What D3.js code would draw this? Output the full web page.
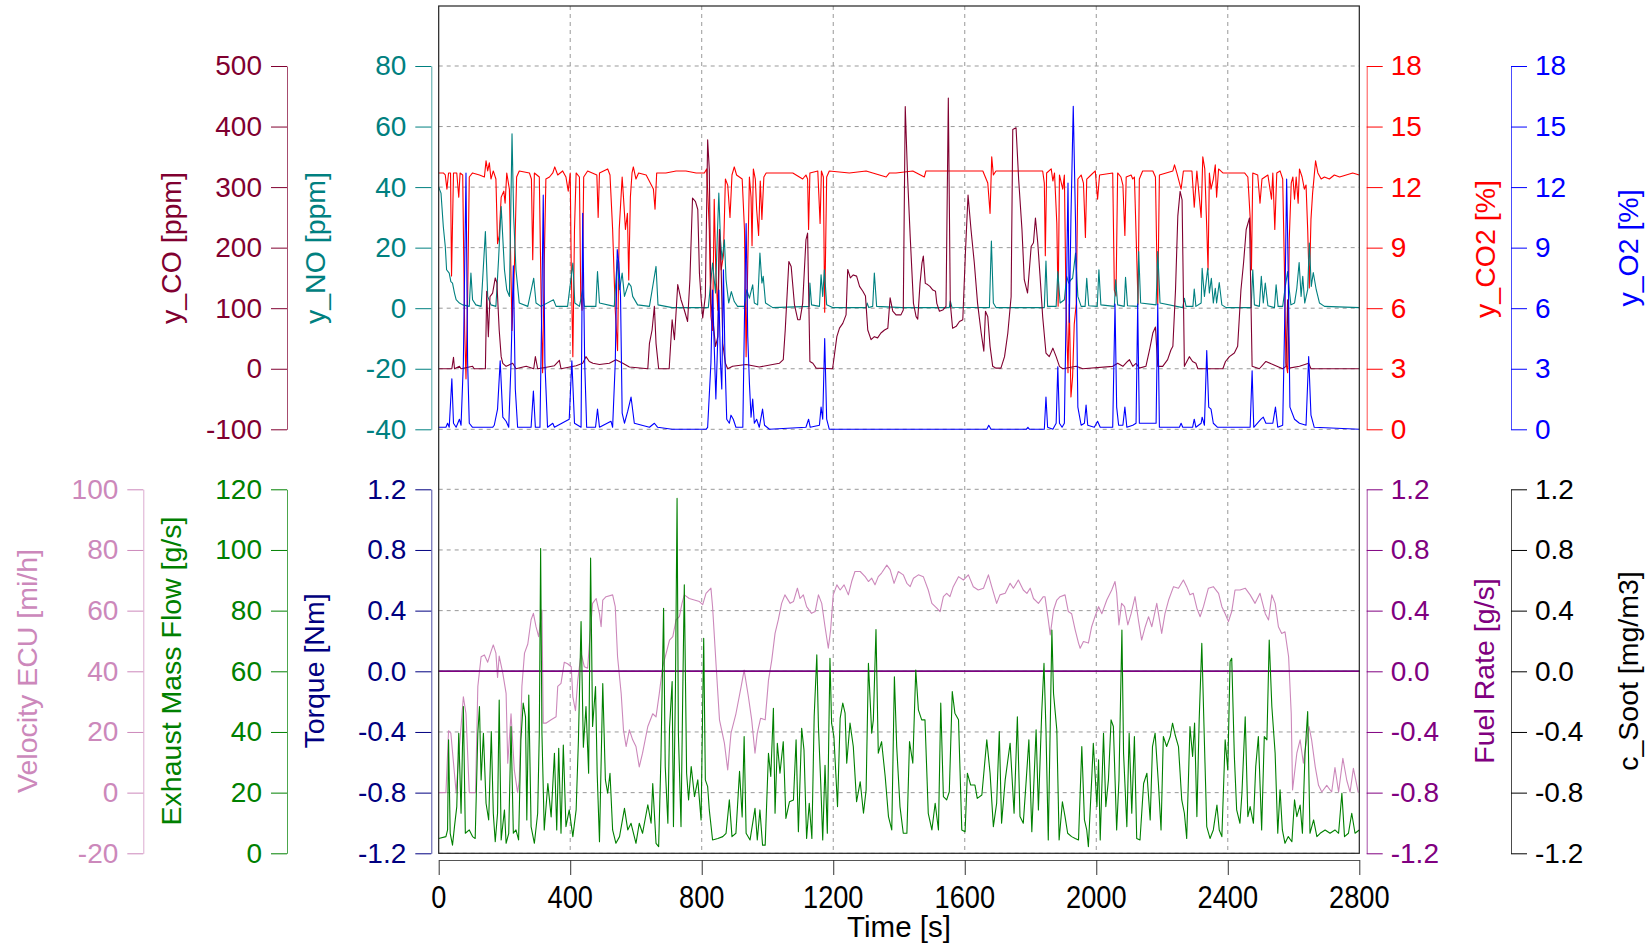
<!DOCTYPE html>
<html>
<head>
<meta charset="utf-8">
<script src="https://cdn.jsdelivr.net/npm/d3@7"></script>
<style>
  html, body { margin: 0; padding: 0; background: #fff; }
  svg { display: block; font-family: "Liberation Sans", Arial, sans-serif; }
</style>
</head>
<body>
<svg id="chart" width="1651" height="948"></svg>
<script>
// ---- data, [time s, value] ----
const timeTicks = [0, 400, 800, 1200, 1600, 2000, 2400, 2800];

const co2 = [[0,12.7],[14,12.7],[20,12.6],[25,11.9],[30,12.7],[36,12.7],[39,7.6],[45,12.7],[55,12.7],[61,11.5],[65,12.7],[73,12.6],[79,4.9],[83,2.5],[88,6.6],[93,12.5],[103,12.7],[124,12.6],[139,12.5],[144,13.3],[149,12.8],[154,13.2],[159,12.4],[166,12.8],[174,12.4],[179,9.2],[184,9.6],[190,11.5],[198,11.8],[202,11.2],[207,12.7],[215,11.9],[223,4.9],[230,7.9],[237,12.5],[245,12.8],[276,12.7],[282,12.4],[286,8.4],[291,12.7],[306,12.5],[313,4.9],[316,2.8],[321,8.2],[326,12.4],[337,12.5],[347,12.7],[353,13.0],[362,12.6],[377,12.8],[387,12.5],[394,11.8],[400,12.7],[403,8.2],[408,3.6],[413,9.9],[418,12.7],[428,12.5],[432,6.6],[436,5.9],[441,12.5],[453,12.8],[481,12.6],[485,10.5],[489,12.7],[514,12.9],[521,12.6],[529,9.9],[537,5.9],[544,3.9],[549,9.9],[558,12.5],[562,11.5],[568,9.9],[574,10.7],[578,7.4],[583,11.5],[588,12.7],[592,13.0],[600,12.4],[608,12.7],[631,12.6],[653,11.9],[658,10.9],[663,12.7],[681,12.7],[691,12.7],[722,12.8],[752,12.8],[783,12.7],[808,12.7],[815,12.9],[819,11.5],[823,9.9],[828,5.6],[833,4.9],[838,11.4],[843,7.7],[849,5.9],[854,9.9],[859,7.9],[866,8.6],[872,12.4],[879,12.1],[886,10.5],[892,12.6],[899,13.0],[906,12.6],[923,12.4],[930,9.9],[935,3.6],[940,8.2],[945,12.5],[950,11.5],[953,9.1],[957,12.9],[963,12.4],[967,10.9],[973,9.6],[978,12.3],[983,10.4],[989,12.5],[996,12.7],[1036,12.7],[1077,12.7],[1107,12.4],[1117,12.6],[1122,12.4],[1125,9.9],[1129,12.7],[1153,12.8],[1160,10.2],[1164,12.8],[1170,12.5],[1174,5.8],[1180,12.5],[1188,12.8],[1249,12.7],[1300,12.8],[1361,12.5],[1371,12.7],[1391,12.7],[1442,12.8],[1477,12.5],[1482,12.8],[1594,12.8],[1655,12.8],[1670,12.2],[1677,10.7],[1682,13.5],[1687,12.6],[1695,12.8],[1837,12.8],[1842,12.2],[1845,8.6],[1849,12.7],[1863,12.9],[1868,12.3],[1873,12.7],[1880,10.2],[1884,6.1],[1888,12.6],[1898,11.9],[1903,12.6],[1908,6.2],[1914,2.8],[1918,6.2],[1923,1.6],[1928,2.6],[1933,5.2],[1939,6.2],[1944,12.4],[1954,12.6],[1961,12.2],[1967,9.5],[1971,12.4],[1984,12.6],[1997,12.8],[2004,11.4],[2010,12.6],[2050,12.7],[2055,6.9],[2060,6.6],[2065,12.7],[2075,12.5],[2081,12.1],[2087,9.6],[2091,12.5],[2106,12.6],[2111,12.4],[2116,12.5],[2123,8.6],[2127,6.2],[2131,12.4],[2141,12.8],[2172,12.8],[2180,12.5],[2184,8.6],[2187,6.2],[2192,12.6],[2233,12.8],[2238,13.1],[2245,12.7],[2258,11.9],[2265,12.8],[2291,12.8],[2298,11.0],[2306,12.8],[2319,10.5],[2324,13.5],[2330,12.9],[2336,10.0],[2340,7.9],[2344,12.7],[2349,11.9],[2356,12.4],[2362,13.1],[2366,11.5],[2372,12.9],[2385,12.7],[2451,12.7],[2461,12.5],[2468,10.5],[2472,7.9],[2476,12.7],[2491,12.6],[2498,11.2],[2504,12.4],[2522,12.6],[2533,11.4],[2537,12.7],[2543,9.9],[2549,12.7],[2559,12.8],[2567,12.4],[2572,8.2],[2577,3.3],[2582,2.8],[2587,9.4],[2593,12.2],[2598,12.5],[2603,11.4],[2608,12.5],[2614,11.2],[2618,12.9],[2626,12.5],[2633,11.9],[2638,12.1],[2643,9.9],[2648,7.0],[2653,10.4],[2658,11.7],[2667,13.3],[2674,12.7],[2684,12.4],[2694,12.5],[2709,12.4],[2724,12.6],[2740,12.5],[2760,12.6],[2780,12.7],[2800,12.6]];

const no = [[0,40],[7,38],[14,27],[20,20.4],[24,12.7],[32,11.6],[37,8.8],[42,8.3],[48,5.0],[53,2.8],[63,1.7],[73,1.1],[93,0.6],[98,11.6],[103,2.8],[113,1.1],[129,0.6],[142,25.3],[149,3.9],[159,1.1],[174,0.6],[182,16.0],[190,33.6],[200,12.7],[207,6.1],[215,3.9],[223,57.6],[228,30.3],[235,12.7],[245,1.7],[271,0.6],[289,9.9],[296,1.7],[311,0.6],[349,2.8],[357,0.6],[392,0.6],[408,14.9],[414,1.7],[428,0.6],[438,6.1],[443,0.6],[478,0.6],[483,12.1],[489,1.7],[534,0.6],[543,16.0],[550,6.1],[558,11.6],[565,3.9],[578,8.3],[585,7.2],[590,3.9],[605,1.1],[641,0.6],[661,13.8],[667,1.1],[710,0.2],[820,0.2],[833,14.9],[842,5.0],[847,22.6],[852,38.0],[857,22.6],[862,16.0],[869,22.6],[874,9.4],[882,1.7],[890,5.5],[899,2.2],[909,0.6],[930,0.6],[937,6.1],[945,3.3],[955,7.7],[960,1.7],[970,1.1],[977,18.2],[983,8.3],[987,10.5],[994,1.7],[1016,0.2],[1127,0.6],[1129,8.3],[1134,1.1],[1158,0.6],[1163,11.0],[1168,3.9],[1173,12.7],[1180,1.1],[1198,0.2],[1300,0.2],[1303,1.7],[1308,0.2],[1320,0.6],[1325,11.6],[1332,0.6],[1409,0.2],[1553,0.2],[1556,2.4],[1561,0.3],[1675,0.2],[1681,22.2],[1687,1.7],[1695,0.2],[1842,0.2],[1847,15.6],[1852,0.6],[1878,0.6],[1883,12.1],[1890,1.7],[1903,2.8],[1910,10.5],[1916,8.3],[1923,9.4],[1928,9.9],[1937,18.2],[1944,3.9],[1954,0.6],[1966,0.6],[1971,9.9],[1977,0.8],[2003,0.6],[2008,12.7],[2014,1.1],[2055,0.6],[2059,9.4],[2065,1.1],[2085,0.6],[2089,10.2],[2095,0.8],[2126,0.6],[2129,18.7],[2135,1.7],[2182,1.1],[2187,18.7],[2194,1.7],[2263,0.2],[2268,3.3],[2273,0.6],[2294,0.6],[2298,6.3],[2303,0.6],[2319,1.7],[2322,13.2],[2329,3.9],[2339,13.2],[2344,5.0],[2350,9.9],[2356,1.7],[2362,6.6],[2366,1.7],[2374,8.5],[2382,1.1],[2395,0.2],[2471,0.2],[2476,12.7],[2481,1.1],[2496,0.6],[2502,10.5],[2508,1.7],[2514,8.3],[2522,0.8],[2542,0.2],[2547,7.7],[2553,0.6],[2567,0.6],[2575,7.2],[2582,12.1],[2587,6.1],[2592,1.1],[2603,1.7],[2610,6.6],[2617,15.1],[2623,3.9],[2628,10.5],[2634,1.7],[2643,6.1],[2648,21.5],[2654,7.2],[2660,11.8],[2669,6.1],[2679,1.7],[2694,0.6],[2800,0.2]];

const co = [[0,0],[40,0],[45,19],[48,0],[63,4],[68,0],[103,4],[108,0],[142,0],[146,128],[151,53],[156,119],[164,125],[172,150],[177,142],[184,64],[190,20],[195,9],[205,4],[225,9],[235,0],[266,4],[289,0],[294,20],[301,0],[332,3],[352,5],[367,14],[372,0],[418,5],[438,9],[448,20],[458,12],[469,9],[489,7],[519,9],[539,15],[560,9],[580,3],[636,0],[641,42],[649,64],[656,103],[661,42],[669,0],[701,0],[710,81],[717,48],[727,139],[737,114],[747,97],[757,78],[764,147],[772,282],[781,276],[788,263],[793,158],[798,117],[803,84],[811,120],[818,378],[823,329],[828,108],[835,75],[842,37],[849,53],[854,230],[859,169],[864,42],[872,9],[879,0],[894,4],[935,7],[975,3],[1036,9],[1048,15],[1054,64],[1065,177],[1072,169],[1082,106],[1092,81],[1099,81],[1107,108],[1117,213],[1122,224],[1129,12],[1138,9],[1148,1],[1198,0],[1211,53],[1219,67],[1229,75],[1239,89],[1244,164],[1252,150],[1261,155],[1271,153],[1280,136],[1290,128],[1298,120],[1305,64],[1315,48],[1325,53],[1335,51],[1345,59],[1356,64],[1366,67],[1373,117],[1381,95],[1391,89],[1406,89],[1413,97],[1419,433],[1426,318],[1434,219],[1444,108],[1452,86],[1457,82],[1464,141],[1470,175],[1474,186],[1480,141],[1487,139],[1494,136],[1503,130],[1511,128],[1515,108],[1523,95],[1533,97],[1543,103],[1550,447],[1556,108],[1563,67],[1574,70],[1584,78],[1594,81],[1602,191],[1610,287],[1619,230],[1629,175],[1639,108],[1650,59],[1658,29],[1663,95],[1670,86],[1677,37],[1685,4],[1695,1],[1710,1],[1721,20],[1731,59],[1741,119],[1746,395],[1756,398],[1764,312],[1774,230],[1781,147],[1791,125],[1802,202],[1809,208],[1815,249],[1822,208],[1829,153],[1837,86],[1847,26],[1857,20],[1868,34],[1878,20],[1888,4],[1898,0],[1939,4],[1959,0],[2050,4],[2065,9],[2081,4],[2095,12],[2101,15],[2111,4],[2121,9],[2131,1],[2151,4],[2162,31],[2172,59],[2180,69],[2187,4],[2202,4],[2217,15],[2227,31],[2233,37],[2241,130],[2248,252],[2255,293],[2261,279],[2268,4],[2283,20],[2293,12],[2303,9],[2309,0],[2385,0],[2393,12],[2405,20],[2420,26],[2430,37],[2440,130],[2448,175],[2456,230],[2466,249],[2474,4],[2496,0],[2516,12],[2537,7],[2567,0],[2577,4],[2582,114],[2587,1],[2618,4],[2646,9],[2653,0],[2800,0]];

const o2 = [[0,0.1],[22,0.1],[27,0.3],[32,0.1],[40,2.5],[45,0.3],[53,0.1],[63,0.5],[68,0.2],[75,3.3],[83,12.7],[88,3.3],[93,0.3],[103,0.1],[164,0.1],[169,0.2],[179,1.0],[187,3.4],[195,0.6],[205,0.4],[213,0.1],[220,3.3],[227,8.1],[233,2.0],[240,0.1],[281,0.1],[288,1.9],[294,0.1],[308,0.1],[314,6.6],[318,11.6],[323,3.3],[331,0.1],[347,0.3],[352,0.1],[397,0.5],[405,3.4],[413,0.3],[433,0.1],[438,10.7],[444,3.3],[450,0.1],[477,0.1],[483,1.0],[489,0.1],[524,0.4],[529,0.1],[537,3.3],[543,8.9],[548,8.2],[553,6.6],[558,0.8],[565,0.3],[575,0.9],[585,1.6],[595,0.3],[641,0.1],[656,0.3],[666,0.1],[710,0],[813,0],[818,0.1],[828,3.3],[833,6.9],[838,4.1],[843,1.5],[849,4.6],[852,6.9],[857,3.3],[861,2.0],[866,7.9],[871,3.3],[876,0.5],[884,0.3],[889,0.7],[896,0.5],[904,0.1],[925,0.1],[931,6.6],[935,10.2],[940,4.6],[945,2.3],[950,0.6],[955,1.5],[960,0.3],[967,0.5],[975,0.1],[985,1.0],[991,0.2],[1006,0],[1117,0.1],[1125,0.5],[1130,0.1],[1158,0.2],[1163,1.1],[1168,0.5],[1174,4.5],[1180,0.5],[1188,0],[1667,0],[1673,0.2],[1680,0],[1787,0],[1792,0.1],[1797,0],[1842,0],[1847,1.6],[1852,0.1],[1868,0],[1878,0.3],[1883,3.1],[1888,0.3],[1896,0.1],[1903,0.3],[1910,7.6],[1914,12.2],[1918,5.3],[1923,10.5],[1930,16.0],[1937,10.2],[1944,1.1],[1954,0.2],[1964,0.3],[1969,1.2],[1974,0.2],[1994,0.1],[2004,0.4],[2012,0.1],[2050,0.1],[2057,6.2],[2062,1.1],[2068,0.2],[2081,0.2],[2087,1.1],[2093,0.1],[2111,0.2],[2121,0.3],[2126,6.2],[2131,0.3],[2182,0.3],[2187,6.2],[2192,0.1],[2253,0.1],[2258,0.3],[2263,0.1],[2293,0.1],[2298,0.5],[2303,0.1],[2319,0.3],[2322,0.6],[2329,0.2],[2336,3.9],[2342,1.1],[2349,1.0],[2356,0.3],[2369,0.1],[2468,0.1],[2474,2.9],[2479,0.1],[2501,0.5],[2508,0.6],[2516,0.3],[2537,0.3],[2545,1.1],[2552,0.1],[2567,0.2],[2573,5.3],[2579,12.4],[2584,7.6],[2589,1.1],[2603,0.5],[2618,0.3],[2638,0.2],[2646,3.6],[2653,0.7],[2663,0.1],[2800,0]];

const velocity = [[0,0],[22,0],[30,20.4],[37,19.6],[53,0],[63,15],[75,31.6],[83,26],[93,0],[112,0],[119,35],[129,44.8],[139,45.4],[149,43],[159,46.5],[166,48.7],[174,46],[179,38],[184,45],[195,39.3],[205,32.7],[210,9.7],[220,26],[230,7.4],[240,0],[245,4],[253,35],[261,46],[271,49],[281,57],[288,59.1],[296,54.7],[304,51.4],[314,60.2],[318,22.9],[326,22.9],[342,24],[357,25],[362,35],[372,36],[382,43],[392,42.5],[403,41.5],[408,31.6],[416,27],[423,37],[433,46],[443,41.5],[453,41],[460,51.4],[468,62.4],[479,64],[489,59],[494,54.7],[499,63.5],[509,64.6],[529,65.2],[537,61.3],[544,44.8],[555,32.7],[562,20.7],[570,15.2],[580,20.7],[590,17.4],[600,15.2],[610,8.5],[620,13],[636,21.8],[651,26],[661,25],[671,32.7],[681,41.5],[692,46],[702,50.3],[712,51.4],[722,57],[732,58],[740,62.4],[747,65.2],[762,64],[793,63],[803,62],[813,65.7],[828,67.4],[833,61.3],[844,41.5],[854,24],[869,16.3],[879,7.5],[889,19.6],[904,26],[920,35],[929,40.4],[942,31.6],[952,24],[962,13],[969,19.6],[979,24.5],[993,24],[1003,37],[1013,43.7],[1023,52.5],[1033,57],[1043,62.4],[1053,65.2],[1069,62.4],[1079,63],[1091,67.4],[1099,64],[1109,65.2],[1119,61.3],[1134,59.1],[1145,59.7],[1155,65.2],[1165,62.4],[1175,54.7],[1185,47.6],[1192,53.6],[1200,65.2],[1211,68.5],[1221,66.8],[1233,68.5],[1246,65.2],[1256,69.6],[1266,72.9],[1282,72.9],[1297,71.2],[1307,69.6],[1317,70.7],[1327,68.5],[1337,71.2],[1347,72.4],[1363,75],[1373,73.5],[1385,69],[1398,72.9],[1413,71.8],[1424,69],[1434,67.9],[1444,70.7],[1459,71.8],[1474,71.2],[1489,66.8],[1500,62.4],[1515,60.8],[1525,59.7],[1535,64.6],[1545,65.7],[1555,64.6],[1565,67.9],[1581,71.2],[1596,70.1],[1611,71.8],[1626,67.9],[1641,66.8],[1657,67.4],[1672,71.8],[1682,67.9],[1697,62.4],[1707,65.2],[1723,65.7],[1738,69],[1748,67.4],[1763,70.1],[1778,66.8],[1789,65.7],[1799,67.4],[1809,64],[1824,62.4],[1839,64.6],[1844,64.6],[1854,57],[1860,52],[1870,60.2],[1880,63.5],[1890,64.6],[1905,65.2],[1915,59.7],[1925,59],[1936,53.6],[1946,49.3],[1951,47.6],[1961,49.8],[1976,49.3],[1986,54.7],[1996,58],[2007,61.3],[2017,59],[2032,63.5],[2047,66.8],[2057,69.6],[2062,65.9],[2069,55.3],[2077,62.4],[2086,61.3],[2096,55.3],[2106,59],[2118,64.6],[2128,57],[2138,50.3],[2149,54.7],[2159,58],[2169,54.7],[2184,62.4],[2199,52.5],[2209,59],[2220,63.5],[2235,67.9],[2250,67.4],[2265,70.1],[2275,67.9],[2285,65.2],[2295,65.7],[2306,60.8],[2316,58],[2326,61.3],[2341,67.4],[2356,67.9],[2372,65.7],[2382,61.3],[2392,59],[2402,56.4],[2412,59.7],[2422,66.8],[2437,66.8],[2453,67.4],[2468,65.2],[2483,62.4],[2498,65.7],[2514,59],[2524,56.9],[2534,65.2],[2544,62.4],[2554,54.7],[2564,52.5],[2574,53],[2585,44.8],[2593,26],[2597,0.9],[2610,13],[2620,17.4],[2630,9.7],[2635,14],[2647,21.8],[2655,17.4],[2666,8.5],[2676,2.4],[2686,0.2],[2701,2.4],[2716,0.2],[2726,8.3],[2737,0.2],[2750,11.3],[2762,4],[2772,0.2],[2782,8],[2797,0]];

const exhaust = [[0,4.9],[22,5.5],[27,7.7],[30,37.4],[35,6.6],[42,2.7],[48,8.8],[55,15.4],[61,39.6],[68,13.2],[75,48.4],[81,6.6],[93,7.7],[103,5.5],[111,4.9],[119,39.6],[124,48.4],[129,24.2],[136,39.6],[144,16.5],[152,11],[160,40.1],[166,13.2],[172,3.8],[179,13.2],[184,50.5],[190,4.4],[200,14.3],[205,3.3],[213,6.6],[220,41.8],[227,6.6],[235,7.7],[243,4.4],[250,37.4],[257,49.5],[264,45],[268,11],[274,52.2],[281,8.8],[291,3.3],[301,13.2],[306,39.6],[310,100.5],[314,39.6],[321,7.7],[332,23],[342,12],[352,33],[359,7.7],[365,34.6],[372,6.6],[379,35.7],[387,8.8],[397,14.3],[408,5.5],[418,14.3],[425,37.4],[433,76.4],[440,35],[448,48.4],[456,26.4],[462,97.3],[468,41.8],[477,55],[482,26.4],[489,3.8],[499,56],[507,24.2],[514,19.8],[521,26.4],[529,7.7],[539,3.3],[550,5.5],[565,14.8],[575,7.7],[585,9.9],[600,3.3],[610,9.9],[620,6.6],[636,16],[646,9.9],[651,23],[661,3.3],[669,2.2],[676,31.9],[684,80.8],[689,28.6],[697,9.9],[702,41.2],[710,56.6],[714,8.8],[720,53.8],[725,117],[729,39.6],[737,8.8],[742,50.5],[747,88.5],[754,26.4],[760,17.6],[768,28.6],[778,18.7],[788,24.2],[798,11],[806,70.9],[811,24.2],[818,22],[823,14.3],[833,4.4],[849,4.9],[864,5.5],[874,6.6],[884,17.6],[892,5.5],[904,6.6],[915,27],[923,12],[929,38.5],[935,6.6],[947,4.4],[962,14.8],[969,4.4],[977,14.3],[985,2.7],[993,2.7],[1003,33],[1010,25.3],[1018,47.8],[1023,13.2],[1030,36.3],[1038,26.4],[1048,36.8],[1056,11.5],[1067,17],[1079,17.6],[1087,37.4],[1094,7.1],[1104,41.2],[1111,34.1],[1119,4.9],[1127,16.5],[1135,4.9],[1142,45],[1150,65.4],[1155,41.8],[1162,23],[1168,4.4],[1175,29],[1182,6.6],[1190,64.3],[1195,42.9],[1202,38.5],[1213,15.4],[1221,44.5],[1229,49.5],[1236,46.2],[1241,29.7],[1251,42.9],[1261,35.2],[1271,17],[1282,23.6],[1292,13.2],[1300,20.9],[1307,62.6],[1317,39.6],[1322,44],[1330,73.8],[1337,33],[1347,36.8],[1358,25.3],[1368,12.1],[1378,7.7],[1386,58.2],[1393,35.2],[1403,15.4],[1413,6.6],[1424,6.6],[1432,36.8],[1442,29.7],[1451,60.4],[1459,47.3],[1469,44],[1479,44],[1489,13.2],[1500,7.7],[1510,16.5],[1520,7.7],[1527,49.5],[1535,18.7],[1545,17.6],[1553,20.3],[1562,53.3],[1570,46.2],[1581,44],[1591,7.7],[1601,7.1],[1608,26.4],[1618,22.5],[1631,22.5],[1638,18.1],[1652,19.2],[1667,37.4],[1677,26.4],[1687,8.8],[1697,16.5],[1705,40.1],[1712,9.9],[1723,24.2],[1738,36.3],[1750,13.2],[1760,45],[1768,12.1],[1778,9.9],[1787,24.2],[1795,37.4],[1804,7.1],[1817,40.7],[1824,14.3],[1834,46.2],[1841,62.6],[1847,40.7],[1854,4.4],[1865,73.6],[1870,52.7],[1880,40.7],[1887,4.4],[1897,17],[1905,12.1],[1913,6.6],[1925,5.5],[1936,4.9],[1946,4.4],[1956,35.2],[1964,11],[1971,7.7],[1976,2.2],[1986,24.2],[1991,36.3],[2002,15.4],[2007,30.8],[2012,4.4],[2022,39.6],[2029,15.4],[2037,24.2],[2045,44],[2052,41.8],[2062,7.7],[2069,24.2],[2078,73.6],[2083,33],[2093,8.8],[2100,39.6],[2108,13.2],[2116,38.5],[2123,4.9],[2133,4.4],[2144,23],[2154,26.4],[2164,11],[2171,35.2],[2179,39.6],[2189,23],[2197,7.7],[2204,38.5],[2214,35.2],[2225,38.5],[2232,42.9],[2240,39],[2250,35.2],[2260,17.6],[2268,13.2],[2275,4.9],[2285,41.8],[2293,31.9],[2299,42.9],[2306,12.1],[2313,44],[2321,69.2],[2329,36.3],[2336,8.8],[2346,4.9],[2356,7.7],[2367,15.9],[2374,7.7],[2382,5.5],[2392,37.4],[2400,27.5],[2407,63.2],[2412,64.3],[2420,31.9],[2427,14.3],[2437,9.9],[2443,19.8],[2453,45],[2461,12.1],[2468,15.4],[2478,9.9],[2485,28.6],[2493,38.5],[2503,7.7],[2511,38.5],[2519,37.4],[2526,70.3],[2534,48.4],[2544,33],[2552,6.6],[2559,20.9],[2566,7.7],[2574,3.3],[2584,5.5],[2595,3.8],[2603,17.6],[2610,12.1],[2620,15.9],[2627,6.6],[2635,33],[2643,46.7],[2650,6.6],[2661,11],[2671,5.5],[2681,6.6],[2696,7.7],[2711,6.6],[2726,7.7],[2737,6.6],[2747,19.8],[2755,5.5],[2767,6.6],[2777,13.2],[2787,6.6],[2800,7.7]];

const torque = [[0,0],[2800,0]];
const fuelRate = [[0,0],[2800,0]];
const soot = [[0,0],[2800,0]];

const coTicks = [-100, 0, 100, 200, 300, 400, 500];
const noTicks = [-40, -20, 0, 20, 40, 60, 80];
const pctTicks = [0, 3, 6, 9, 12, 15, 18];
const velTicks = [-20, 0, 20, 40, 60, 80, 100];
const exhTicks = [0, 20, 40, 60, 80, 100, 120];
const signedTicks = [-1.2, -0.8, -0.4, 0, 0.4, 0.8, 1.2];

// ---- layout ----
const svg = d3.select("#chart");
const left = 438.7, right = 1359.3, frameTop = 6, frameBottom = 853.3;
const topY = [429.3, 66], botY = [853.3, 489.3];

const x = d3.scaleLinear().domain([0, 2800]).range([left, right]);
const yCO = d3.scaleLinear().domain([-100, 500]).range(topY);
const yNO = d3.scaleLinear().domain([-40, 80]).range(topY);
const yCO2 = d3.scaleLinear().domain([0, 18]).range(topY);
const yO2 = d3.scaleLinear().domain([0, 18]).range(topY);
const yVel = d3.scaleLinear().domain([-20, 100]).range(botY);
const yExh = d3.scaleLinear().domain([0, 120]).range(botY);
const yTq = d3.scaleLinear().domain([-1.2, 1.2]).range(botY);
const yFuel = d3.scaleLinear().domain([-1.2, 1.2]).range(botY);
const ySoot = d3.scaleLinear().domain([-1.2, 1.2]).range(botY);

const fmtInt = d => String(d);
const fmt1 = d => d.toFixed(1);

// grid
const grid = svg.append("g").attr("stroke", "#999").attr("stroke-dasharray", "4,4").attr("stroke-width", 1);
noTicks.forEach(v => grid.append("line").attr("x1", left).attr("x2", right).attr("y1", yNO(v)).attr("y2", yNO(v)));
signedTicks.forEach(v => grid.append("line").attr("x1", left).attr("x2", right).attr("y1", yTq(v)).attr("y2", yTq(v)));
timeTicks.slice(1, -1).forEach(t => grid.append("line").attr("x1", x(t)).attr("x2", x(t)).attr("y1", frameTop).attr("y2", frameBottom));

// series
function drawLine(data, yScale, color, w) {
  svg.append("path")
    .datum(data)
    .attr("fill", "none")
    .attr("stroke", color)
    .attr("stroke-width", w || 1.1)
    .attr("stroke-linejoin", "round")
    .attr("d", d3.line().x(d => x(d[0])).y(d => yScale(d[1])));
}
drawLine(co2, yCO2, "#ff0000");
drawLine(no, yNO, "#008080");
drawLine(co, yCO, "#800030");
drawLine(o2, yO2, "#0000ff");
drawLine(velocity, yVel, "#cc88bb");
drawLine(soot, ySoot, "#000000");
drawLine(torque, yTq, "#000080");
drawLine(fuelRate, yFuel, "#800080", 1.4);
drawLine(exhaust, yExh, "#008000");

// frame
svg.append("rect").attr("x", left).attr("y", frameTop)
  .attr("width", right - left).attr("height", frameBottom - frameTop)
  .attr("fill", "none").attr("stroke", "#222").attr("stroke-width", 1.2);

// y axes
function yAxis(scale, ticks, fmt, xPos, side, color) {
  const ax = (side === "left" ? d3.axisLeft(scale) : d3.axisRight(scale))
    .tickValues(ticks).tickFormat(fmt).tickSize(16).tickSizeOuter(0).tickPadding(side === "left" ? 9 : 8);
  const g = svg.append("g").attr("transform", `translate(${xPos},0)`).call(ax);
  g.select(".domain").attr("stroke", color).attr("stroke-opacity", 0.7);
  g.selectAll(".tick line").attr("stroke", color);
  g.selectAll(".tick text").attr("fill", color).style("font-size", "28px")
    .style("font-family", "'Liberation Sans', Arial, sans-serif");
}
yAxis(yCO, coTicks, fmtInt, 287, "left", "#800030");
yAxis(yNO, noTicks, fmtInt, 431.3, "left", "#008080");
yAxis(yCO2, pctTicks, fmtInt, 1366.7, "right", "#ff0000");
yAxis(yO2, pctTicks, fmtInt, 1511, "right", "#0000ff");
yAxis(yVel, velTicks, fmtInt, 143.3, "left", "#cc88bb");
yAxis(yExh, exhTicks, fmtInt, 287, "left", "#008000");
yAxis(yTq, signedTicks, fmt1, 431.3, "left", "#000080");
yAxis(yFuel, signedTicks, fmt1, 1366.7, "right", "#800080");
yAxis(ySoot, signedTicks, fmt1, 1511, "right", "#000000");

// axis titles
function title(text, tx, ty, color) {
  svg.append("text").attr("transform", `translate(${tx},${ty}) rotate(-90)`)
    .attr("text-anchor", "middle").attr("fill", color)
    .style("font-size", "28.5px").text(text);
}
title("y_CO [ppm]", 181, 248, "#800030");
title("y_NO [ppm]", 325, 248, "#008080");
title("y_CO2 [%]", 1495, 249, "#ff0000");
title("y_O2 [%]", 1638, 248, "#0000ff");
title("Velocity ECU [mi/h]", 37, 671, "#cc88bb");
title("Exhaust Mass Flow [g/s]", 181, 671, "#008000");
title("Torque [Nm]", 324, 671, "#000080");
title("Fuel Rate [g/s]", 1494, 671, "#800080");
title("c_Soot [mg/m3]", 1638, 671, "#000000");

// x axis (separate, below the frame)
const xg = svg.append("g").attr("transform", "translate(0,860)")
  .call(d3.axisBottom(x).tickValues(timeTicks).tickSize(15).tickSizeOuter(0).tickFormat(""));
xg.select(".domain").attr("stroke", "#555");
xg.selectAll(".tick line").attr("stroke", "#333");
timeTicks.forEach(t => {
  svg.append("text").attr("transform", `translate(${x(t)},908) scale(0.85,1)`)
    .attr("text-anchor", "middle").attr("fill", "#000")
    .style("font-size", "32px").text(t);
});
svg.append("text").attr("x", (left + right) / 2).attr("y", 937)
  .attr("text-anchor", "middle").attr("fill", "#000")
  .style("font-size", "29.5px").text("Time [s]");
</script>
</body>
</html>
